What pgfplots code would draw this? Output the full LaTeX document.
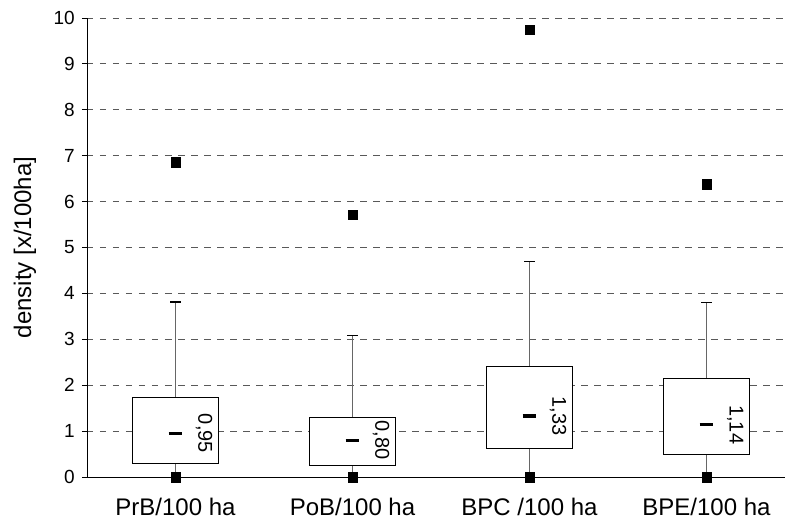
\documentclass[border=0pt]{standalone}
\usepackage{fontspec}
\setmainfont{Liberation Sans}
\usepackage{pgfplots}
\pgfplotsset{compat=1.18}
\usepgfplotslibrary{statistics}

\pgfplotsset{
  boxplot/draw direction=y,
  boxplot/draw/median/.code={
    \draw[line width=3.5bp, black]
      (boxplot box cs:\pgfplotsboxplotvalue{median},0.42) --
      (boxplot box cs:\pgfplotsboxplotvalue{median},0.58);
    \node[rotate=-90, inner sep=0pt, font=\fontsize{20bp}{24bp}\selectfont]
      at (boxplot box cs:\pgfplotsboxplotvalue{median},0.83)
      {\pgfmathprintnumber[fixed, fixed zerofill, precision=2, use comma,
        assume math mode=true]{\pgfplotsboxplotvalue{median}}};
  },
  boxplot/draw/upper whisker/.code={
    \draw[black!60, line width=0.9bp]
      (boxplot cs:\pgfplotsboxplotvalue{upper quartile}) --
      (boxplot cs:\pgfplotsboxplotvalue{upper whisker});
    \draw[black, line width=1.3bp]
      (boxplot whisker cs:\pgfplotsboxplotvalue{upper whisker},0) --
      (boxplot whisker cs:\pgfplotsboxplotvalue{upper whisker},1);
  },
  boxplot/draw/lower whisker/.code={
    \draw[black!60, line width=0.9bp]
      (boxplot cs:\pgfplotsboxplotvalue{lower whisker}) --
      (boxplot cs:\pgfplotsboxplotvalue{lower quartile});
  },
  boxplot/every box/.style={draw=black, fill=white},
}

\begin{document}
\begin{tikzpicture}
\useasboundingbox (-87bp,-52bp) rectangle (698bp,477bp);
\begin{axis}[
  at={(0,0)}, anchor=south west,
  scale only axis, width=698bp, height=459bp,
  xmin=-0.5, xmax=3.4435, ymin=0, ymax=10,
  axis lines*=left,
  axis line style={black, line width=0.9bp},
  clip=false,
  ytick={0,1,...,10},
  xtick={0,1,2,3},
  xticklabels={PrB/100 ha, PoB/100 ha, BPC /100 ha, BPE/100 ha},
  minor xtick={-0.5,0.5,1.5,2.5},
  xtick style={draw=none},
  minor x tick style={black, line width=0.9bp},
  y tick style={black, line width=0.9bp},
  tick align=outside,
  major tick length=5bp,
  minor tick length=8bp,
  ymajorgrids,
  grid style={black!65, line width=0.9bp, dash pattern=on 6.5bp off 6.5bp},
  /pgf/number format/assume math mode=true,
  yticklabel style={font=\fontsize{19bp}{23bp}\selectfont, inner sep=0pt, xshift=-7bp},
  xticklabel style={font=\fontsize{24bp}{28bp}\selectfont, inner sep=0pt, anchor=north, yshift=-16bp},
  ylabel={density [x/100ha]},
  ylabel style={font=\fontsize{24bp}{28bp}\selectfont, at={(axis description cs:-0.089,0.5)}, anchor=center},
]

\addplot[black, line width=0.9bp, boxplot prepared={draw position=0, box extend=0.49, whisker extend=0.062,
  lower whisker=0, lower quartile=0.30, median=0.95, upper quartile=1.74, upper whisker=3.81}] coordinates {};
\addplot[black, line width=0.9bp, boxplot prepared={draw position=1, box extend=0.49, whisker extend=0.062,
  lower whisker=0, lower quartile=0.25, median=0.80, upper quartile=1.30, upper whisker=3.08}] coordinates {};
\addplot[black, line width=0.9bp, boxplot prepared={draw position=2, box extend=0.49, whisker extend=0.062,
  lower whisker=0, lower quartile=0.63, median=1.33, upper quartile=2.40, upper whisker=4.69}] coordinates {};
\addplot[black, line width=0.9bp, boxplot prepared={draw position=3, box extend=0.49, whisker extend=0.062,
  lower whisker=0, lower quartile=0.50, median=1.14, upper quartile=2.15, upper whisker=3.80}] coordinates {};

% maxima and minima
\addplot[only marks, mark=square*, mark size=4.7bp, black] coordinates {
  (0,6.86) (1,5.72) (2,9.75) (3,6.38)
  (0,0) (1,0) (2,0) (3,0)
};
\end{axis}
\end{tikzpicture}
\end{document}
